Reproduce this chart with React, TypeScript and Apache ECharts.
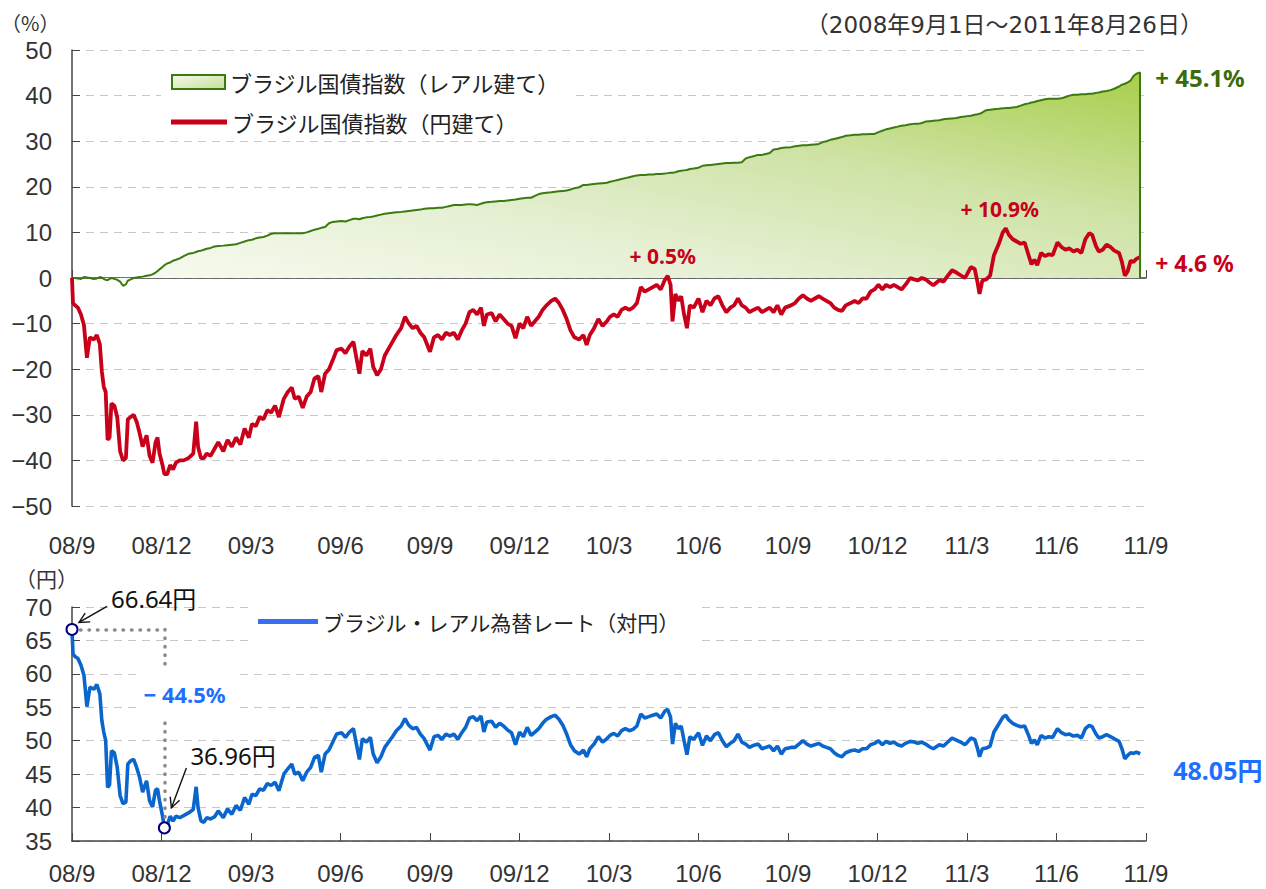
import React, { useEffect, useRef } from 'react';
import * as echarts from 'echarts';

// ---------------- data ----------------
const xTickLabels = ['08/9', '08/12', '09/3', '09/6', '09/9', '09/12', '10/3', '10/6', '10/9', '10/12', '11/3', '11/6', '11/9'];

const d = (ym: string, days: number[]) => days.map((x) => `${ym}-${String(x).padStart(2, '0')}`);

const dates: string[] = [
  ...d('2008-09', [1, 2, 4, 7, 10, 13, 16, 19, 23, 26, 29]),
  ...d('2008-10', [1, 3, 5, 7, 9, 11, 14, 17, 20, 23, 26, 28, 31]),
  ...d('2008-11', [3, 6, 9, 12, 16, 19, 22, 25, 27, 29]),
  ...d('2008-12', [2, 4, 7, 10, 13, 16, 20, 24, 29]),
  ...d('2009-01', [3, 6, 8, 11, 14, 17, 21, 25, 29]),
  ...d('2009-02', [3, 7, 11, 15, 19, 23, 27]),
  ...d('2009-03', [2, 6, 10, 14, 18, 22, 26, 30]),
  ...d('2009-04', [4, 8, 12, 15, 19, 23, 27]),
  ...d('2009-05', [1, 5, 9, 12, 16, 20, 24, 28]),
  ...d('2009-06', [2, 6, 10, 14, 17, 20, 23, 27]),
  ...d('2009-07', [1, 4, 8, 12, 16, 20, 24, 28]),
  ...d('2009-08', [2, 6, 10, 14, 18, 22, 26]),
  ...d('2009-09', [1, 5, 9, 13, 17, 21, 25, 29]),
  ...d('2009-10', [3, 7, 11, 15, 19, 23, 26, 29]),
  ...d('2009-11', [3, 7, 11, 15, 19, 23, 27]),
  ...d('2009-12', [1, 5, 9, 13, 17, 21, 25, 29]),
  ...d('2010-01', [3, 7, 11, 15, 19, 23, 27]),
  ...d('2010-02', [1, 5, 8, 11, 15, 19, 23, 27]),
  ...d('2010-03', [2, 6, 10, 14, 18, 22, 26, 30]),
  ...d('2010-04', [3, 7, 11, 15, 19, 23, 27, 30]),
  ...d('2010-05', [3, 5, 8, 11, 14, 17, 20, 23, 27]),
  ...d('2010-06', [1, 5, 9, 13, 17, 21, 25, 29]),
  ...d('2010-07', [3, 7, 11, 15, 19, 23, 27]),
  ...d('2010-08', [1, 5, 9, 13, 17, 21, 25, 29]),
  ...d('2010-09', [4, 8, 12, 16, 20, 24, 28]),
  ...d('2010-10', [2, 6, 10, 14, 18, 22, 26, 30]),
  ...d('2010-11', [4, 8, 12, 16, 20, 24, 28]),
  ...d('2010-12', [2, 6, 10, 14, 18, 22, 26, 30]),
  ...d('2011-01', [4, 8, 12, 16, 20, 24, 28]),
  ...d('2011-02', [3, 7, 11, 15, 19, 23, 27]),
  ...d('2011-03', [1, 5, 9, 12, 14, 17, 21, 25, 29]),
  ...d('2011-04', [3, 7, 10, 13, 17, 21, 25, 29]),
  ...d('2011-05', [3, 6, 9, 12, 16, 20, 24, 28]),
  ...d('2011-06', [2, 6, 10, 14, 18, 22, 26, 30]),
  ...d('2011-07', [4, 7, 11, 14, 18, 22, 26, 30]),
  ...d('2011-08', [4, 7, 10, 13, 16, 19, 22, 26]),
];

// ブラジル国債指数（レアル建て）, % change since 2008-09-01
const realBondIndex: number[] = [
  0, 0, 0, -0.1, -0.2, 0.2, 0.1, 0, -0.2, -0.1, 0.2,
  0.1, -0.2, -0.4, -0.5, -0.2, 0, -0.2, -0.4, -0.8, -1.7, -1.4, -0.6, -0.3,
  0, 0.1, 0.2, 0.3, 0.5, 0.6, 0.8, 1.2, 1.5, 1.9,
  2.4, 2.8, 3.2, 3.4, 3.8, 4, 4.3, 4.8, 5.3,
  5.5, 5.7, 5.9, 6, 6.2, 6.4, 6.6, 6.9, 7,
  7.1, 7.2, 7.3, 7.4, 7.7, 8, 8.3,
  8.4, 8.7, 8.9, 9, 9.3, 9.7, 9.8, 9.8,
  9.8, 9.8, 9.8, 9.8, 9.8, 9.8, 10,
  10.3, 10.6, 10.8, 11, 11.2, 12, 12.3, 12.4,
  12.5, 12.4, 12.7, 13, 13, 12.9, 13.1, 13.3,
  13.4, 13.5, 13.7, 13.9, 14.1, 14.2, 14.3, 14.4,
  14.5, 14.6, 14.7, 14.8, 14.9, 15, 15.2,
  15.3, 15.3, 15.4, 15.4, 15.6, 15.8, 16, 16,
  16, 16.1, 16.2, 16.1, 16, 16.3, 16.5, 16.6,
  16.7, 16.8, 16.9, 16.9, 17, 17.1, 17.2,
  17.4, 17.5, 17.6, 17.6, 18, 18.4, 18.6, 18.7,
  18.8, 18.9, 19, 19.1, 19.2, 19.4, 19.7,
  19.9, 20.4, 20.4, 20.5, 20.6, 20.7, 20.8, 20.9,
  21.1, 21.3, 21.5, 21.7, 21.9, 22.1, 22.3, 22.5,
  22.6, 22.6, 22.7, 22.7, 22.8, 22.8, 22.9, 23,
  23.1, 23.1, 23.2, 23.4, 23.5, 23.6, 23.7, 23.9, 24,
  24.2, 24.6, 24.7, 24.8, 24.9, 25, 25.1, 25.2,
  25.2, 25.3, 25.3, 25.4, 26.2, 26.5, 26.7,
  27, 27, 27.2, 27.4, 28.2, 28.3, 28.5, 28.6,
  28.7, 28.9, 29, 29.1, 29.1, 29.2, 29.3,
  29.4, 29.8, 30, 30.3, 30.5, 30.7, 30.9, 31.2,
  31.3, 31.4, 31.4, 31.5, 31.5, 31.6, 31.6,
  32, 32.3, 32.6, 32.8, 33, 33.2, 33.4, 33.5,
  33.7, 33.8, 33.8, 34, 34.3, 34.4, 34.5,
  34.6, 34.8, 34.9, 35, 35.1, 35.3, 35.4,
  35.5, 35.6, 35.8, 35.9, 36, 36.3, 36.8, 36.9, 37,
  37.1, 37.2, 37.3, 37.3, 37.4, 37.5, 37.8, 38.1,
  38.3, 38.5, 38.6, 38.8, 39, 39.2, 39.3, 39.3,
  39.3, 39.4, 39.7, 40, 40.2, 40.2, 40.3, 40.3,
  40.4, 40.4, 40.6, 40.7, 40.9, 41, 41.2, 41.5,
  42, 42.4, 42.6, 42.9, 43.3, 44.3, 44.8, 45.1,
];

// ブラジル国債指数（円建て）, % change since 2008-09-01
const yenBondIndex: number[] = [
  0, -5.5, -6, -6.5, -8, -10.3, -17.5, -13, -13.5, -12.5, -14.5,
  -20.5, -23.8, -25, -35.5, -35, -27.5, -28, -30.5, -38, -40, -39.5, -31, -30.5,
  -30, -31.5, -34, -37, -34.5, -39, -40.5, -36, -35, -38.5,
  -41, -43, -43, -41, -42, -40.5, -40, -40, -39.5,
  -38.5, -31.5, -37, -39.5, -39.5, -38.5, -39, -37.5, -36,
  -38, -35.5, -37, -35, -36.5, -33, -35,
  -32, -32.5, -30.5, -31, -29, -29.5, -28, -30.5,
  -26.5, -25, -24, -26.5, -26, -28.5, -26,
  -25, -22, -21.5, -25, -21, -20, -18, -15.8,
  -15.5, -16.5, -15, -14, -17.5, -21, -16, -17,
  -15.5, -19.5, -21.3, -20, -17, -15.5, -14, -12.5,
  -11, -8.5, -10, -11, -10.5, -12, -13,
  -16.2, -13, -12.5, -13.5, -12, -12.5, -12, -13.5,
  -11.5, -10, -7.5, -7, -8, -6.5, -10.5, -8,
  -7.7, -9.5, -8, -9, -10, -10.5, -13.2,
  -10, -11, -8.5, -10.5, -9.5, -8.5, -7, -6,
  -5, -4.5, -5.5, -7, -9, -11.5, -13,
  -13.5, -12.5, -14.7, -12.5, -11, -9, -10.5, -9.5,
  -8.5, -8, -8.5, -7, -6.5, -7, -6.5, -5.5,
  -2, -3, -2.5, -2, -1.5, -2.5, -0.5, 0.5,
  -1.5, -9.5, -3.5, -5, -4, -8, -11, -6, -6.5,
  -4.5, -7.5, -5, -6, -4.5, -4, -6, -7.5,
  -6.5, -6, -4.5, -6, -6.5, -7.5, -7,
  -6.5, -7.5, -7, -6.5, -7.5, -6, -8, -6.5,
  -6, -5.5, -4.5, -3.8, -4.5, -5, -4.5,
  -4, -4.5, -5, -5.5, -6.5, -7, -7.2, -6,
  -5.5, -5, -5.5, -4.5, -4.5, -3, -2.5,
  -1.5, -2.5, -1.5, -2, -1.5, -2, -2.5, -1.5,
  0, -0.3, -0.5, 0, -0.3, -1, -1.6,
  -0.5, -0.8, 0.5, 1.7, 1.2, 0.6, 0,
  0.8, 2.4, 2, -1, -3.5, -0.5, -0.3, 0.5, 5,
  7.5, 10, 10.9, 9.5, 8.5, 8, 7.5, 7.8,
  5, 3, 4, 2.8, 5.5, 4.8, 5.2, 5,
  7.8, 6.8, 6.2, 6.5, 5.8, 6.2, 5.5, 8.5,
  9.8, 9.5, 7, 5.8, 6.2, 7.3, 6.8, 6,
  5.5, 3.5, 0.5, 1.5, 3.8, 3.5, 4.2, 4.6,
];

// ブラジル・レアル為替レート（対円）, yen per real
const brlJpyRate: number[] = [
  66.64, 63, 62.6, 62.3, 61.3, 59.8, 55.1, 58, 57.7, 58.4, 57,
  53, 51.3, 50, 43, 43.4, 48.5, 48.2, 46, 41.8, 40.6, 40.8, 46.5, 47,
  47.2, 46, 44.5, 42.3, 44, 41, 40.1, 42.6, 42.8, 41,
  38.8, 36.96, 37.4, 38.7, 38, 38.7, 38.5, 38.8, 39.2,
  39.7, 43.1, 40, 38, 37.8, 38.5, 38.3, 38.6, 39.5,
  38.5, 39.8, 39, 40.3, 39.6, 41.5, 40.5,
  42, 41.8, 42.8, 42.6, 43.6, 43.3, 43.8, 42.5,
  45, 45.8, 46.5, 45, 45.3, 44, 45.3,
  46, 47.5, 47.8, 45.3, 48, 48.6, 49.8, 51,
  51.2, 50.5, 51.3, 51.8, 49.5, 47.2, 50.3, 49.8,
  50.5, 48, 46.7, 47.6, 49, 49.8, 50.6, 51.5,
  52.2, 53.3, 52.3, 51.8, 52, 51, 50.3,
  48.6, 50.6, 50.8, 50.2, 51, 50.7, 51, 50.2,
  51.2, 52, 53.4, 53.6, 53, 53.7, 51.3, 52.8,
  52.9, 52, 52.6, 52.2, 51.6, 51.2, 49.4,
  51.3, 50.6, 52, 50.8, 51.3, 51.8, 52.6, 53.2,
  53.6, 53.8, 53.2, 52.3, 51, 49.4, 48.5,
  48, 48.6, 47.6, 48.8, 49.5, 50.6, 49.8, 50.3,
  50.8, 51.1, 50.7, 51.5, 51.8, 51.5, 51.7, 52.2,
  54, 53.4, 53.6, 53.8, 54, 53.4, 54.4, 54.7,
  53.5, 49.5, 52.6, 51.8, 52.2, 50, 47.9, 50.6, 50.2,
  51.2, 49.3, 50.7, 50, 50.9, 51.2, 50, 49.1,
  49.6, 50, 51, 49.8, 49.5, 49, 49.3,
  49.5, 48.8, 49, 49.2, 48.5, 49.2, 48, 48.8,
  49, 49, 49.5, 50, 49.5, 49.2, 49.4,
  49.6, 49.2, 49, 48.8, 48.2, 47.8, 47.6, 48.2,
  48.5, 48.6, 48.4, 48.8, 48.8, 49.4, 49.6,
  50, 49.4, 49.9, 49.6, 49.8, 49.4, 49.2, 49.6,
  49.9, 49.8, 49.6, 49.8, 49.5, 49.1, 48.8,
  49.4, 49.2, 49.8, 50.4, 50.1, 49.8, 49.4,
  49.7, 50.4, 50.2, 48.8, 47.6, 48.8, 48.9, 49.2, 51.3,
  52.5, 53.5, 53.8, 53.1, 52.6, 52.3, 52.1, 52.2,
  50.8, 49.6, 50.1, 49.4, 50.8, 50.4, 50.6, 50.5,
  51.8, 51.2, 50.9, 51, 50.7, 50.8, 50.4, 51.8,
  52.3, 52.1, 51, 50.4, 50.6, 50.9, 50.6, 50.3,
  49.9, 48.8, 47.3, 47.8, 48.2, 48.1, 48.3, 48.05,
];

const NAME_REAL = 'ブラジル国債指数（レアル建て）';
const NAME_YEN = 'ブラジル国債指数（円建て）';
const NAME_FX = 'ブラジル・レアル為替レート（対円）';
const PERIOD_TEXT = '（2008年9月1日～2011年8月26日）';
const UNIT_TOP = '（%）';
const UNIT_BOTTOM = '（円）';

// ---------------- styles ----------------
const FONT_CJK = "'Noto Sans CJK JP', 'Noto Sans', sans-serif";
const FONT_NUM = "'Noto Sans', 'Noto Sans CJK JP', sans-serif";
const FONT_AXIS = "'Liberation Sans', 'Noto Sans', sans-serif";
const FONT_WIDE = "'DejaVu Sans', 'Noto Sans CJK JP', sans-serif";
const GREEN = '#3b7a10';
const GREEN_TEXT = '#3a6b0c';
const RED = '#c8001a';
const BLUE = '#0a66cc';
const BLUE_TEXT = '#1f6fff';
const BLUE_LEGEND = '#3a6ef0';
const AXIS = '#444';
const GRID_LINE = '#c8c8c8';
const LABEL = '#333';

function monthOffset(s: string): number {
  const [y, m, day] = s.split('-').map(Number);
  const dim = new Date(y, m, 0).getDate();
  return (y - 2008) * 12 + (m - 9) + (day - 1) / dim;
}

function arrow(tail: number[], tip: number[]) {
  const dx = tip[0] - tail[0];
  const dy = tip[1] - tail[1];
  const len = Math.hypot(dx, dy);
  const ux = dx / len;
  const uy = dy / len;
  const hl = 10;
  const hw = 5;
  const bx = tip[0] - ux * hl;
  const by = tip[1] - uy * hl;
  return [
    { type: 'line', z: 50, shape: { x1: tail[0], y1: tail[1], x2: tip[0], y2: tip[1] }, style: { stroke: '#111', lineWidth: 1.4 } },
    {
      type: 'polyline',
      z: 50,
      shape: { points: [[bx - uy * hw, by + ux * hw], [tip[0], tip[1]], [bx + uy * hw, by - ux * hw]] },
      style: { stroke: '#111', lineWidth: 1.4, fill: null },
    },
  ];
}

export default function App() {
  const ref = useRef<HTMLDivElement>(null);

  useEffect(() => {
    const el = ref.current;
    if (!el) return;
    const chart = echarts.init(el, null, { renderer: 'svg' });

    const n = Math.min(dates.length, realBondIndex.length, yenBondIndex.length, brlJpyRate.length);
    const xs = dates.slice(0, n).map(monthOffset);
    const real = xs.map((x, i) => [x, realBondIndex[i]]);
    const yen = xs.map((x, i) => [x, yenBondIndex[i]]);
    const fx = xs.map((x, i) => [x, brlJpyRate[i]]);
    const last = n - 1;

    let lowIdx = 0;
    let maxIdx = 0;
    let peakBefore2011 = 0;
    for (let i = 0; i < n; i++) {
      if (brlJpyRate[i] < brlJpyRate[lowIdx]) lowIdx = i;
      if (yenBondIndex[i] > yenBondIndex[maxIdx]) maxIdx = i;
      if (dates[i] < '2011' && yenBondIndex[i] > yenBondIndex[peakBefore2011]) peakBefore2011 = i;
    }
    const fxChange = (brlJpyRate[lowIdx] / brlJpyRate[0] - 1) * 100;

    const areaGrad = new echarts.graphic.LinearGradient(0, 1, 1, 0, [
      { offset: 0, color: '#fafcf4' },
      { offset: 0.35, color: '#e6f0d4' },
      { offset: 0.65, color: '#cfe3a6' },
      { offset: 1, color: '#a8ce4a' },
    ]);
    const legendGrad = new echarts.graphic.LinearGradient(0, 0, 1, 1, [
      { offset: 0, color: '#f6f9ee' },
      { offset: 1, color: '#c6de96' },
    ]);

    const splitLine = { show: true, lineStyle: { color: GRID_LINE, type: [8, 6], width: 1 } };
    const xLabelBase = {
      show: true,
      formatter: (v: number) => xTickLabels[Math.round(v / 3)] ?? '',
      fontSize: 24,
      color: LABEL,
      fontFamily: FONT_AXIS,
    };
    const yLabel = {
      fontSize: 24,
      color: LABEL,
      fontFamily: FONT_AXIS,
      margin: 20,
      formatter: (v: number) => (v < 0 ? '\u2212' + Math.abs(v) : String(v)),
    };
    const legendText = { fontSize: 22, color: '#222', fontFamily: FONT_CJK };

    const option: any = {
      animation: false,
      backgroundColor: '#fff',
      title: {
        text: PERIOD_TEXT,
        right: 63,
        top: 13,
        padding: 0,
        textStyle: { fontSize: 23, fontWeight: 'normal', color: LABEL, fontFamily: FONT_WIDE },
      },
      grid: [
        { left: 72, top: 50, width: 1074, height: 456 },
        { left: 72, top: 607, width: 1074, height: 234 },
      ],
      legend: [
        {
          data: [{ name: NAME_REAL, icon: 'rect', itemStyle: { color: legendGrad, borderColor: GREEN, borderWidth: 2 } }],
          left: 161,
          top: 61,
          padding: [10, 10, 20, 10],
          backgroundColor: '#fff',
          itemWidth: 53,
          itemHeight: 14,
          selectedMode: false,
          textStyle: legendText,
        },
        {
          data: [{ name: NAME_YEN, icon: 'rect', itemStyle: { color: RED, borderWidth: 0 } }],
          left: 171,
          top: 111,
          padding: 0,
          itemWidth: 56,
          itemHeight: 5,
          selectedMode: false,
          textStyle: legendText,
        },
        {
          data: [{ name: NAME_FX, icon: 'rect', itemStyle: { color: BLUE_LEGEND, borderWidth: 0 } }],
          left: 250,
          top: 601,
          padding: [10, 16, 12, 8],
          backgroundColor: '#fff',
          itemWidth: 60,
          itemHeight: 5,
          selectedMode: false,
          textStyle: { ...legendText, fontSize: 21 },
        },
      ],
      xAxis: [
        {
          gridIndex: 0, type: 'value', min: 0, max: 36, interval: 3, position: 'bottom',
          axisLine: { show: false, onZero: false },
          axisTick: { show: false },
          axisLabel: { ...xLabelBase, margin: 27 },
          splitLine: { show: false },
        },
        {
          gridIndex: 0, type: 'value', min: 0, max: 36, interval: 3, position: 'top',
          axisLine: { show: true, onZero: true, lineStyle: { color: AXIS, width: 1.5 } },
          axisTick: { show: true, inside: false, length: 8, lineStyle: { color: AXIS, width: 1 } },
          axisLabel: { show: false },
          splitLine: { show: false },
        },
        {
          gridIndex: 1, type: 'value', min: 0, max: 36, interval: 3, position: 'bottom',
          axisLine: { show: true, onZero: false, lineStyle: { color: AXIS, width: 1.5 } },
          axisTick: { show: true, inside: true, length: 8, lineStyle: { color: AXIS, width: 1 } },
          axisLabel: { ...xLabelBase, margin: 20 },
          splitLine: { show: false },
        },
      ],
      yAxis: [
        {
          gridIndex: 0, type: 'value', min: -50, max: 50, interval: 10,
          axisLine: { show: true, onZero: false, lineStyle: { color: AXIS, width: 1.5 } },
          axisTick: { show: true, inside: true, length: 8, lineStyle: { color: AXIS } },
          axisLabel: yLabel,
          splitLine,
        },
        {
          gridIndex: 1, type: 'value', min: 35, max: 70, interval: 5,
          axisLine: { show: true, onZero: false, lineStyle: { color: AXIS, width: 1.5 } },
          axisTick: { show: true, inside: true, length: 8, lineStyle: { color: AXIS } },
          axisLabel: yLabel,
          splitLine,
        },
      ],
      series: [
        {
          name: NAME_REAL,
          type: 'line',
          xAxisIndex: 0,
          yAxisIndex: 0,
          data: real,
          symbol: 'none',
          color: GREEN,
          lineStyle: { color: GREEN, width: 2 },
          areaStyle: { color: areaGrad, opacity: 1 },
          z: 2,
          endLabel: {
            show: true,
            formatter: `+ ${realBondIndex[last].toFixed(1)}%`,
            distance: 0,
            offset: [15, 5],
            color: GREEN_TEXT,
            fontSize: 24,
            fontWeight: 'bold',
            fontFamily: FONT_NUM,
          },
          markLine: {
            silent: true,
            symbol: ['none', 'none'],
            label: { show: false },
            lineStyle: { color: GREEN, width: 2, type: 'solid' },
            data: [[{ coord: [xs[last], 0] }, { coord: [xs[last], realBondIndex[last]] }]],
          },
        },
        {
          name: NAME_YEN,
          type: 'line',
          xAxisIndex: 0,
          yAxisIndex: 0,
          data: yen,
          symbol: 'none',
          color: RED,
          lineStyle: { color: RED, width: 3.8 },
          z: 3,
          endLabel: {
            show: true,
            formatter: `+ ${yenBondIndex[last].toFixed(1)} %`,
            distance: 0,
            offset: [15, 6],
            color: RED,
            fontSize: 23,
            fontWeight: 'bold',
            fontFamily: FONT_NUM,
          },
          markPoint: {
            symbol: 'circle',
            symbolSize: 2,
            silent: true,
            itemStyle: { color: 'rgba(0,0,0,0)' },
            label: {
              show: true,
              position: 'top',
              distance: 8,
              color: RED,
              fontSize: 21,
              fontWeight: 'bold',
              fontFamily: FONT_NUM,
              formatter: (p: any) => `+ ${Number(p.value).toFixed(1)}%`,
            },
            data: [
              { coord: [xs[maxIdx], yenBondIndex[maxIdx]], value: yenBondIndex[maxIdx], label: { offset: [-6, 0] } },
              { coord: [xs[peakBefore2011], yenBondIndex[peakBefore2011]], value: yenBondIndex[peakBefore2011], label: { offset: [-5, 0] } },
            ],
          },
        },
        {
          name: NAME_FX,
          type: 'line',
          xAxisIndex: 2,
          yAxisIndex: 1,
          data: fx,
          symbol: 'none',
          color: BLUE,
          lineStyle: { color: BLUE, width: 3.6 },
          z: 3,
          endLabel: {
            show: true,
            formatter: `${brlJpyRate[last].toFixed(2)}円`,
            distance: 0,
            offset: [33, 16],
            color: BLUE_TEXT,
            fontSize: 25,
            fontWeight: 'bold',
            fontFamily: FONT_NUM,
          },
          markLine: {
            silent: true,
            symbol: ['none', 'none'],
            label: { show: false },
            lineStyle: { color: '#8a8a8a', width: 3.5, type: [0.5, 8], cap: 'round' },
            data: [
              [{ coord: [xs[0], brlJpyRate[0]] }, { coord: [xs[lowIdx], brlJpyRate[0]] }],
              [{ coord: [xs[lowIdx], brlJpyRate[0]] }, { coord: [xs[lowIdx], brlJpyRate[lowIdx]] }],
            ],
          },
          markPoint: {
            symbol: 'circle',
            symbolSize: 11,
            silent: true,
            itemStyle: { color: '#fff', borderColor: '#00007a', borderWidth: 2 },
            label: { show: false },
            data: [
              { coord: [xs[0], brlJpyRate[0]] },
              { coord: [xs[lowIdx], brlJpyRate[lowIdx]] },
            ],
          },
        },
      ],
    };

    chart.setOption(option);

    const p0 = chart.convertToPixel({ seriesIndex: 2 }, [xs[0], brlJpyRate[0]]) as number[];
    const pL = chart.convertToPixel({ seriesIndex: 2 }, [xs[lowIdx], brlJpyRate[lowIdx]]) as number[];

    const graphic: any[] = [
      {
        type: 'text', x: 1, y: 22, z: 50,
        style: { text: UNIT_TOP, fontSize: 20, fontFamily: FONT_CJK, fill: LABEL, verticalAlign: 'middle' },
      },
      {
        type: 'text', x: 15, y: 578, z: 50,
        style: { text: UNIT_BOTTOM, fontSize: 21, fontFamily: FONT_CJK, fill: LABEL, verticalAlign: 'middle' },
      },
      {
        type: 'text', x: p0[0] + 39, y: p0[1] - 31, z: 50,
        style: { text: `${brlJpyRate[0].toFixed(2)}円`, fontSize: 24, fontFamily: FONT_NUM, fill: '#111', verticalAlign: 'middle' },
      },
      {
        type: 'text', x: pL[0] + 26, y: pL[1] - 72, z: 50,
        style: { text: `${brlJpyRate[lowIdx].toFixed(2)}円`, fontSize: 24, fontFamily: FONT_NUM, fill: '#111', verticalAlign: 'middle' },
      },
      {
        type: 'text', x: pL[0] - 23, y: pL[1] - 134, z: 60,
        style: {
          text: `\u2212 ${Math.abs(fxChange).toFixed(1)}%`,
          fontSize: 22,
          fontWeight: 'bold',
          fontFamily: FONT_NUM,
          fill: BLUE_TEXT,
          verticalAlign: 'middle',
          backgroundColor: '#fff',
          padding: [20, 10, 12, 2],
        },
      },
      ...arrow([p0[0] + 35, p0[1] - 23], [p0[0] + 7, p0[1] - 7]),
      ...arrow([pL[0] + 22, pL[1] - 60], [pL[0] + 7, pL[1] - 20]),
    ];
    chart.setOption({ graphic });

    return () => chart.dispose();
  }, []);

  return (
    <div
      ref={ref}
      style={{ position: 'fixed', left: 0, top: 0, width: 1266, height: 889, background: '#fff' }}
    />
  );
}
